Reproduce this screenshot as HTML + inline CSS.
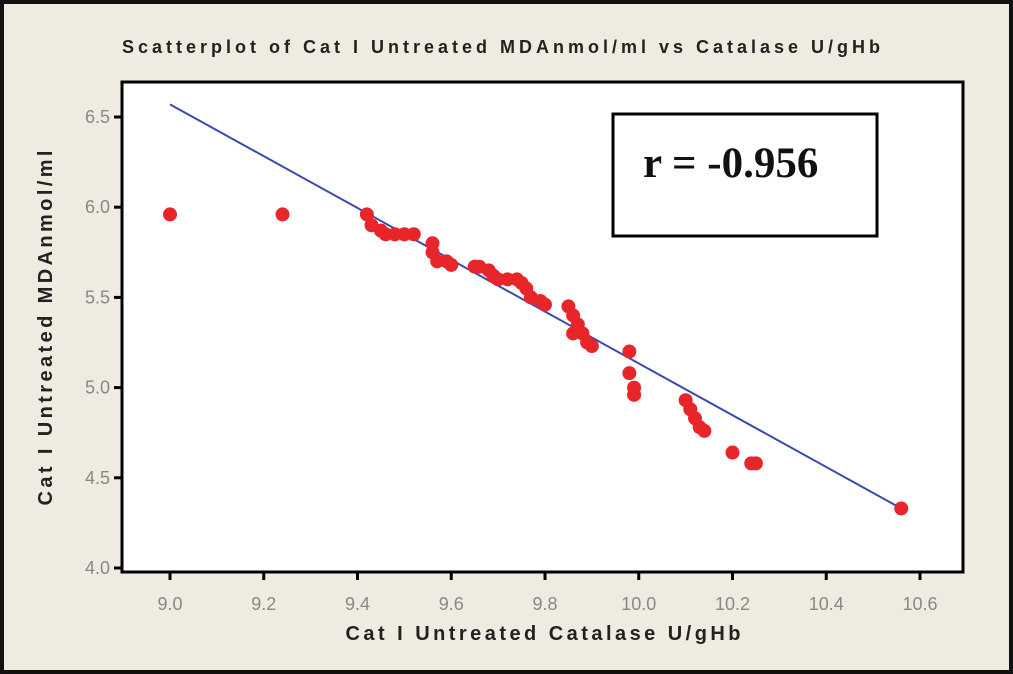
<!DOCTYPE html>
<html><head><meta charset="utf-8"><style>
body{margin:0;background:#efebe0;}
svg{display:block;font-family:"Liberation Sans",sans-serif;}
</style></head><body>
<svg width="1013" height="674">
<rect x="2" y="2" width="1009" height="670" fill="#efebe0" stroke="#111" stroke-width="4"/>
<text x="501" y="53" text-anchor="middle" font-size="18" font-weight="bold" fill="#222" textLength="758" lengthAdjust="spacing">Scatterplot of Cat I Untreated MDAnmol/ml vs Catalase U/gHb</text>
<rect x="122" y="82" width="841" height="490" fill="#fff" stroke="#000" stroke-width="3"/>
<g id="axes"></g>
<g id="marks"></g>
<rect x="613" y="114" width="264" height="122" fill="#fff" stroke="#000" stroke-width="3"/>
<text x="643" y="177" font-family="Liberation Serif,serif" font-size="43" font-weight="bold" fill="#111">r = -0.956</text>
<text x="543" y="640" text-anchor="middle" font-size="20" font-weight="bold" fill="#222" textLength="395" lengthAdjust="spacing">Cat I Untreated Catalase U/gHb</text>
<text transform="translate(52,328) rotate(-90)" text-anchor="middle" font-size="20" font-weight="bold" fill="#222" textLength="355" lengthAdjust="spacing">Cat I Untreated MDAnmol/ml</text>
</svg>
<script>
const xTicks=[9.0,9.2,9.4,9.6,9.8,10.0,10.2,10.4,10.6];
const yTicks=[4.0,4.5,5.0,5.5,6.0,6.5];
const catalase=[9.0,9.24,9.42,9.43,9.45,9.46,9.48,9.50,9.52,9.56,9.56,9.57,9.59,9.60,9.65,9.66,9.68,9.69,9.70,9.72,9.74,9.75,9.76,9.77,9.79,9.80,9.85,9.86,9.87,9.86,9.88,9.89,9.90,9.98,9.98,9.99,9.99,10.10,10.11,10.12,10.13,10.14,10.20,10.24,10.25,10.56];
const mda=[5.96,5.96,5.96,5.90,5.87,5.85,5.85,5.85,5.85,5.80,5.75,5.70,5.70,5.68,5.67,5.67,5.65,5.62,5.60,5.60,5.60,5.58,5.55,5.50,5.48,5.46,5.45,5.40,5.35,5.30,5.30,5.25,5.23,5.20,5.08,5.00,4.96,4.93,4.88,4.83,4.78,4.76,4.64,4.58,4.58,4.33];
const fitX=[9.0,10.56];
const fitY=[6.57,4.33];
const NS="http://www.w3.org/2000/svg";
const xs=v=>170+(v-9.0)*468.75;
const ys=v=>568-(v-4.0)*180.4;
const axes=document.getElementById('axes'),marks=document.getElementById('marks');
function mk(tag,attrs,parent){const e=document.createElementNS(NS,tag);for(const k in attrs)e.setAttribute(k,attrs[k]);parent.appendChild(e);return e;}
xTicks.forEach(t=>{
 const l=mk('line',{x1:xs(t),x2:xs(t),y1:572,y2:580,stroke:'#000','stroke-width':3},axes);
 
 
 const tx=mk('text',{x:xs(t),y:610,'text-anchor':'middle','font-size':18,fill:'#888'},axes);
 tx.textContent=t.toFixed(1);
 
 
});
yTicks.forEach(t=>{
 const l=mk('line',{x1:114,x2:122,y1:ys(t),y2:ys(t),stroke:'#000','stroke-width':3},axes);
 
 
 const tx=mk('text',{x:110,y:ys(t)+6,'text-anchor':'end','font-size':18,fill:'#888'},axes);
 tx.textContent=t.toFixed(1);
 
 
});
const fl=mk('line',{x1:xs(fitX[0]),y1:ys(fitY[0]),x2:xs(fitX[1]),y2:ys(fitY[1]),stroke:'#3b48b0','stroke-width':2},marks);


catalase.forEach((v,i)=>{
 const c=mk('circle',{cx:xs(v),cy:ys(mda[i]),r:7,fill:'#e8262a'},marks);
 
 
});
</script>
</body></html>
